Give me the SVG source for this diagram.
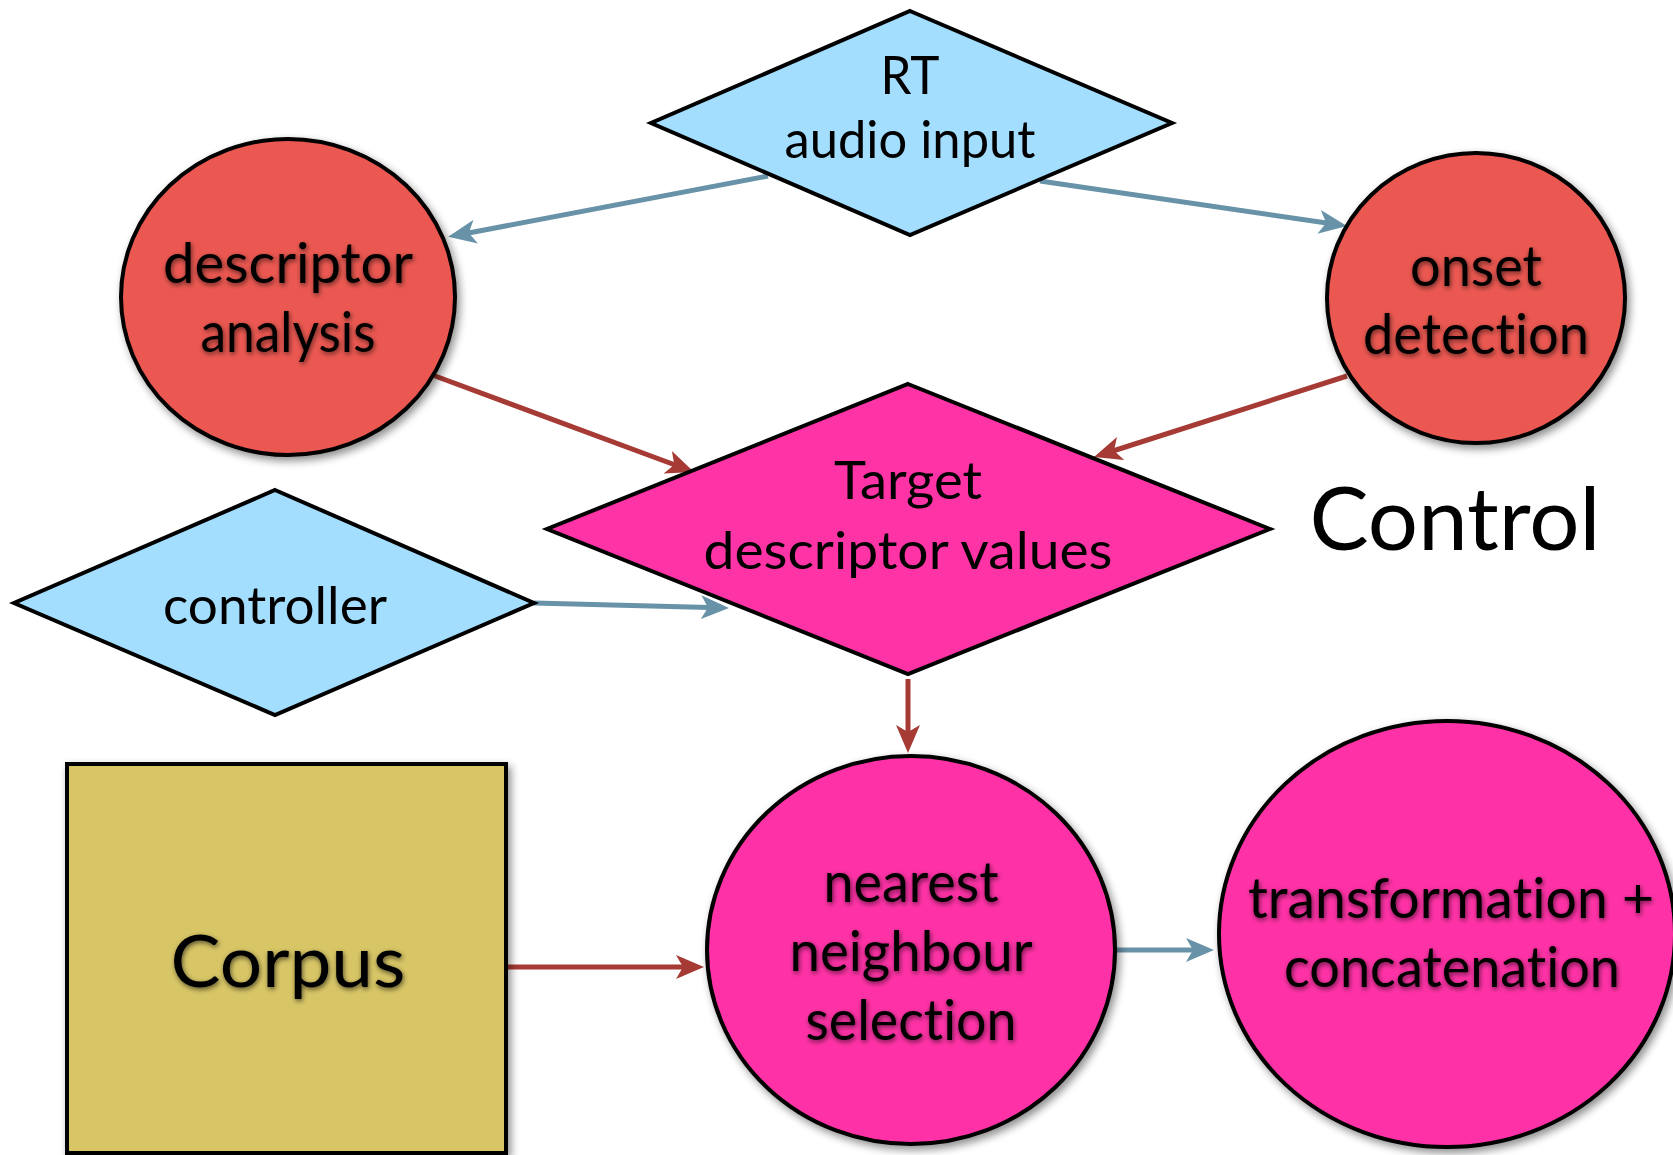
<svg xmlns="http://www.w3.org/2000/svg" width="1673" height="1155" viewBox="0 0 1673 1155">
<style>
text{font-family:"Lato","Liberation Sans",sans-serif;fill:#000;text-anchor:middle;font-variant-ligatures:none;font-feature-settings:"liga" 0}
.lbl{font-size:52px}
.big{font-size:56px;filter:url(#tshadow)}
.shape{stroke:#000;stroke-width:4}
.blue{fill:#a3defe}
.salmon{fill:#eb5851;filter:url(#dshadow)}
.pink{fill:#fe33a6}
.pinkc{fill:#fe33a6;filter:url(#dshadow)}
.olive{fill:#d7c566;filter:url(#dshadow)}
.cb{stroke:#6892a8;stroke-width:5;fill:none;marker-end:url(#ab)}
.cr{stroke:#a63a34;stroke-width:5;fill:none;marker-end:url(#ar)}
</style>
<defs>
<filter id="dshadow" x="-20%" y="-20%" width="140%" height="140%">
<feGaussianBlur in="SourceAlpha" stdDeviation="4"/>
<feOffset dx="3" dy="4" result="b"/>
<feComponentTransfer><feFuncA type="linear" slope="0.45"/></feComponentTransfer>
<feMerge><feMergeNode/><feMergeNode in="SourceGraphic"/></feMerge>
</filter>
<filter id="tshadow" x="-10%" y="-30%" width="120%" height="160%">
<feGaussianBlur in="SourceAlpha" stdDeviation="2.5"/>
<feOffset dx="1" dy="2" result="b"/>
<feComponentTransfer><feFuncA type="linear" slope="0.6"/></feComponentTransfer>
<feMerge><feMergeNode/><feMergeNode in="SourceGraphic"/></feMerge>
</filter>
<marker id="ab" markerUnits="userSpaceOnUse" markerWidth="28" markerHeight="24" viewBox="0 0 28 24" refX="18" refY="12" orient="auto">
<path d="M0,0 L28,12 L0,24 L7,12 Z" fill="#6892a8"/>
</marker>
<marker id="ar" markerUnits="userSpaceOnUse" markerWidth="28" markerHeight="24" viewBox="0 0 28 24" refX="18" refY="12" orient="auto">
<path d="M0,0 L28,12 L0,24 L7,12 Z" fill="#a63a34"/>
</marker>
</defs>
<rect width="1673" height="1155" fill="#fff"/>

<g id="connectors">
<line class="cb" x1="768" y1="176" x2="458" y2="235"/>
<line class="cb" x1="1040" y1="181" x2="1337" y2="224.5"/>
<line class="cr" x1="427" y1="373" x2="684.6" y2="468.5"/>
<line class="cr" x1="1347" y1="376" x2="1103.5" y2="454"/>
<line class="cb" x1="534" y1="603" x2="719" y2="607.7"/>
<line class="cr" x1="908" y1="679" x2="908" y2="743"/>
<line class="cr" x1="503" y1="967" x2="694" y2="967"/>
<line class="cb" x1="1115" y1="950" x2="1204" y2="950"/>
</g>

<g id="rt-audio-input">
<polygon class="shape blue" points="910,11 1172,123 910,235 651,123"/>
<text class="lbl" x="910" y="94" textLength="59" lengthAdjust="spacingAndGlyphs">RT</text>
<text class="lbl" x="910" y="158" textLength="251" lengthAdjust="spacingAndGlyphs">audio input</text>
</g>

<g id="descriptor-analysis">
<ellipse class="shape salmon" cx="288" cy="297" rx="167" ry="158"/>
<text class="big" x="288" y="283" textLength="250" lengthAdjust="spacingAndGlyphs">descriptor</text>
<text class="big" x="288" y="352" textLength="175" lengthAdjust="spacingAndGlyphs">analysis</text>
</g>

<g id="onset-detection">
<ellipse class="shape salmon" cx="1476" cy="298" rx="149" ry="145"/>
<text class="big" x="1476" y="286" textLength="132" lengthAdjust="spacingAndGlyphs">onset</text>
<text class="big" x="1476" y="354" textLength="226" lengthAdjust="spacingAndGlyphs">detection</text>
</g>

<g id="target-descriptor-values">
<polygon class="shape pink" points="908,384 1270,529 908,674 547,529"/>
<text class="lbl" x="908" y="499" textLength="148" lengthAdjust="spacingAndGlyphs">Target</text>
<text class="lbl" x="908" y="569" textLength="409" lengthAdjust="spacingAndGlyphs">descriptor values</text>
</g>

<g id="controller">
<polygon class="shape blue" points="275,490 534,603 275,715 14,603"/>
<text class="lbl" x="275" y="624" textLength="224" lengthAdjust="spacingAndGlyphs">controller</text>
</g>

<g id="control-label">
<text x="1455" y="550" font-size="88" textLength="291" lengthAdjust="spacingAndGlyphs">Control</text>
</g>

<g id="corpus">
<rect class="shape olive" x="67" y="764" width="439" height="389"/>
<text class="big" x="288" y="987" style="font-size:72px" textLength="235" lengthAdjust="spacingAndGlyphs">Corpus</text>
</g>

<g id="nearest-neighbour-selection">
<ellipse class="shape pinkc" cx="911" cy="950" rx="204" ry="194"/>
<text class="big" x="911" y="902" textLength="175" lengthAdjust="spacingAndGlyphs">nearest</text>
<text class="big" x="911" y="971" textLength="243" lengthAdjust="spacingAndGlyphs">neighbour</text>
<text class="big" x="911" y="1040" textLength="211" lengthAdjust="spacingAndGlyphs">selection</text>
</g>

<g id="transformation-concatenation">
<ellipse class="shape pinkc" cx="1447" cy="934" rx="228" ry="213"/>
<text class="big" x="1451" y="918" textLength="406" lengthAdjust="spacingAndGlyphs">transformation +</text>
<text class="big" x="1452" y="987" textLength="336" lengthAdjust="spacingAndGlyphs">concatenation</text>
</g>
</svg>
